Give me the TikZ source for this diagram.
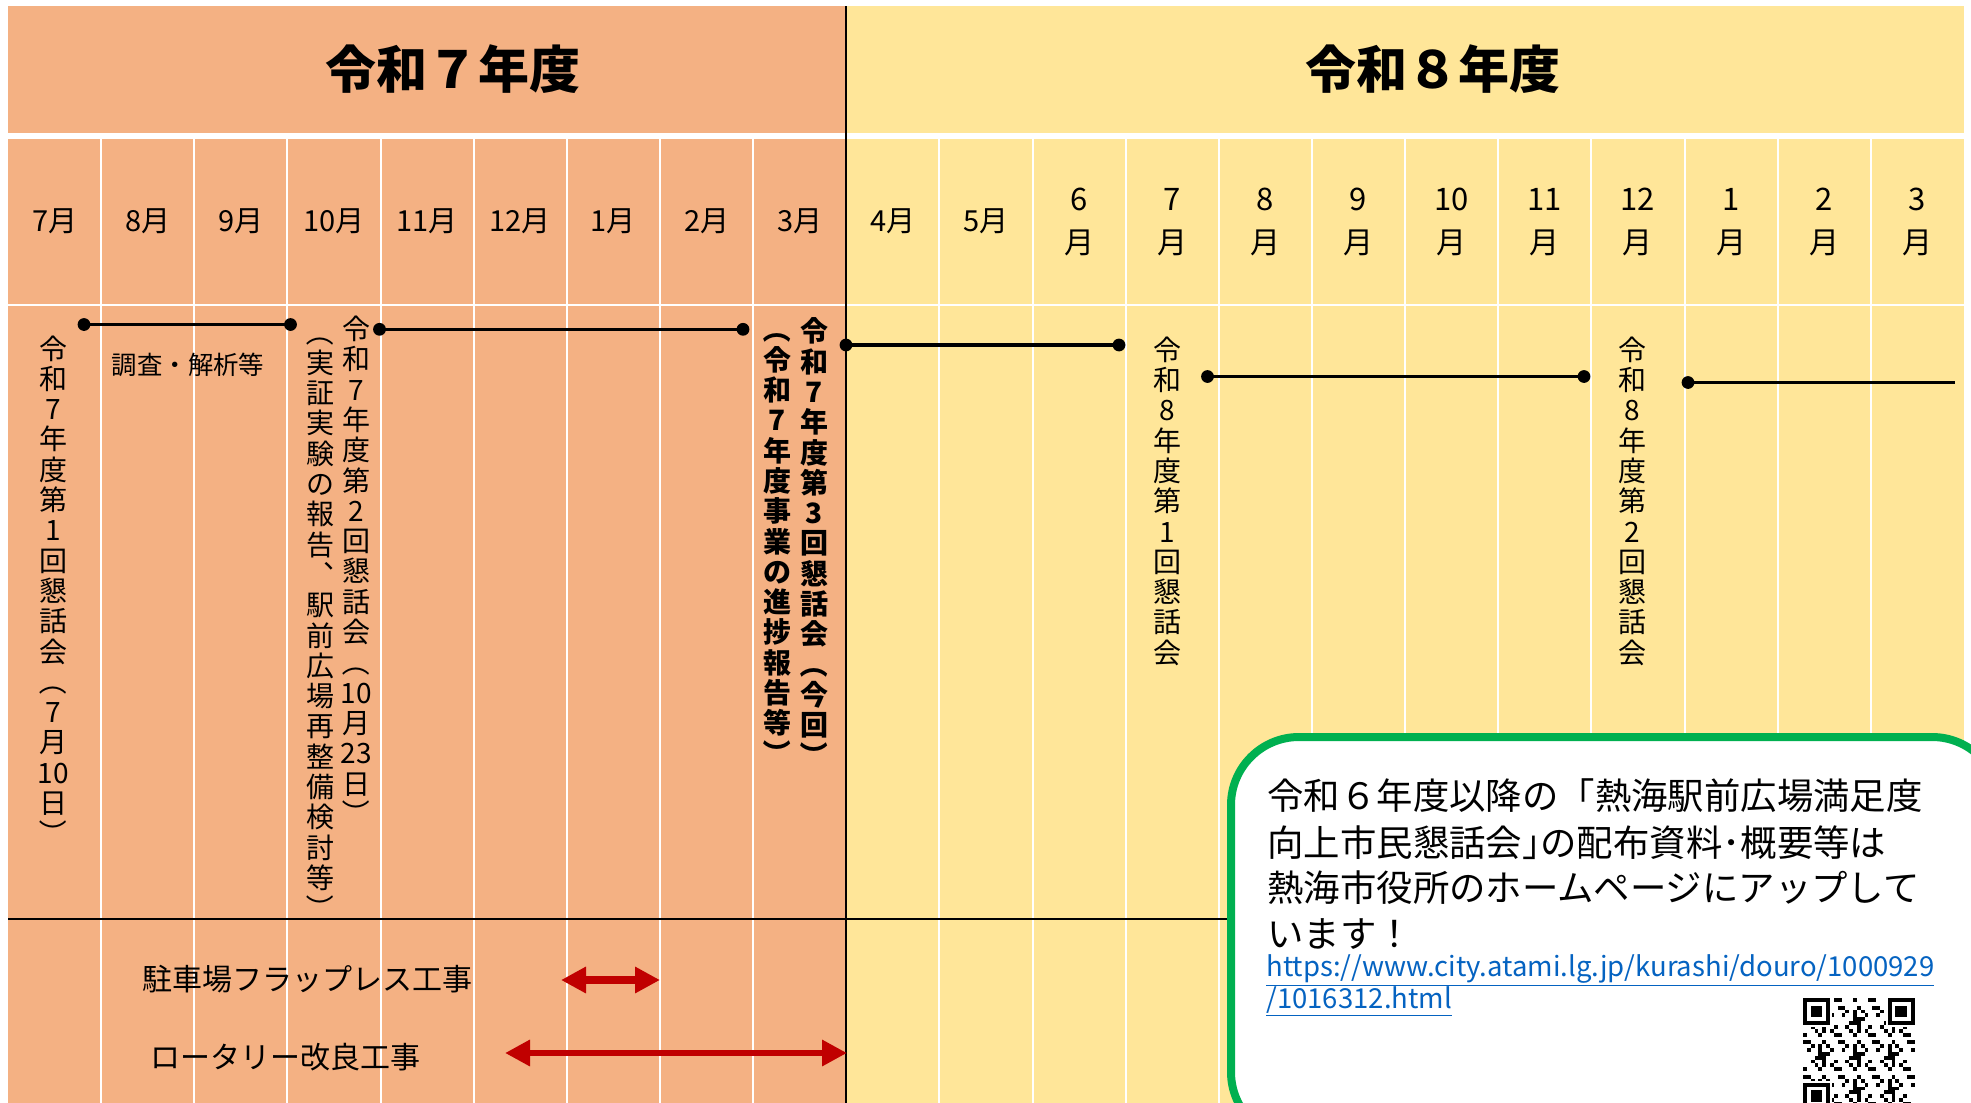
\documentclass[tikz,border=0pt]{standalone}
\usepackage{fontspec}
\usepackage{graphicx}
\newfontfamily\jp{Noto Sans CJK JP}
\usetikzlibrary{arrows.meta}
\definecolor{orangebg}{HTML}{F4B183}
\definecolor{yellowbg}{HTML}{FFE699}
\definecolor{arrowred}{HTML}{C00000}
\definecolor{boxgreen}{HTML}{00B050}
\definecolor{linkblue}{HTML}{0563C1}
\newcommand\vl{\rotatebox[origin=c]{-90}{（}}
\newcommand\vr{\rotatebox[origin=c]{-90}{）}}
\newcommand\vfont{\jp\fontsize{14}{15}\selectfont}
\newcommand\vfontb{\jp\bfseries\fontsize{14}{15}\selectfont}
\newcommand\monthfont{\jp\fontsize{14.5}{16}\selectfont}
% #1 name, #2 x, #3 first baseline, #4 font, #5 items
\newcommand\vcol[5]{%
  \foreach \ch [count=\k from 0] in {#5} {
    \node[vt, font=#4, name=#1-\k] at (#2, {#3+\k*30.3}) {\ch};
  }}
\begin{document}
\begin{tikzpicture}[x=0.5pt,y=-0.5pt,
  vt/.style={anchor=base,inner sep=0pt},
  lbl/.style={anchor=base,inner sep=0pt},
  sep/.style={white,line width=1pt},
  dotline/.style={line width=1.8pt},
  redarrow/.style={arrowred,{Triangle[length=12.5pt,width=12.5pt]}-{Triangle[length=12.5pt,width=12.5pt]}},
  boxtext/.style={anchor=base west,inner sep=0pt,font=\jp\fontsize{18.2}{23}\selectfont},
  urltext/.style={anchor=base west,inner sep=0pt,text=linkblue,font=\jp\fontsize{13.75}{16}\selectfont},
]
\useasboundingbox (0,0) rectangle (1971,1103);
\clip (0,0) rectangle (1971,1103);
% backgrounds
\fill[orangebg] (8,6) rectangle (846,1103);
\fill[yellowbg] (846,6) rectangle (1964,1103);
\fill[white] (8,133) rectangle (1964,139);
\draw[white,line width=1.25pt] (8,305) -- (1964,305);
\foreach \k in {1,...,8,10,11,...,20}
  \draw[sep] ({8+\k*93.14},139) -- ({8+\k*93.14},1103);
\draw[line width=1.4pt] (846,6) -- (846,1103);
\draw[line width=1.25pt] (8,919) -- (1964,919);
% headers
\node[lbl,font=\jp\bfseries\fontsize{25.5}{30}\selectfont] (h7) at (453,88.5) {令和７年度};
\node[lbl,font=\jp\bfseries\fontsize{25.5}{30}\selectfont] (h8) at (1432.5,88.5) {令和８年度};
% months
\foreach \m [count=\k from 0] in {7,8,9,10,11,12,1,2,3}
  \node[lbl,font=\monthfont,name=mo\k] at ({8+93.14*(\k+0.5)},231) {{\m}月};
\node[lbl,font=\monthfont] (m9) at ({8+93.14*9.5},231) {4月};
\node[lbl,font=\monthfont] (m10) at ({8+93.14*10.5},231) {5月};
\foreach \m [count=\k from 11] in {6,7,8,9,10,11,12,1,2,3} {
  \node[lbl,font=\jp\fontsize{15.5}{16}\selectfont,name=my\k] at ({8+93.14*(\k+0.5)},210.5) {\m};
  \node[lbl,font=\jp\fontsize{15}{16}\selectfont,name=myt\k] at ({8+93.14*(\k+0.5)},253) {月};
}
% timeline lines
\coordinate (d1a) at (84,324.5);    \coordinate (d1b) at (290.5,324.5);
\coordinate (d2a) at (379.5,329.3); \coordinate (d2b) at (743,329.3);
\coordinate (d3a) at (846,345);     \coordinate (d3b) at (1119,345);
\coordinate (d4a) at (1207.5,376.5);\coordinate (d4b) at (1584,376.5);
\coordinate (d5a) at (1688,382.5);  \coordinate (d5b) at (1955,382.5);
\foreach \p in {d1,d2,d3,d4} {
  \draw[dotline] (\p a) -- (\p b);
  \fill (\p a) circle[radius=3.2pt];
  \fill (\p b) circle[radius=3.2pt];
}
\draw[dotline] (d5a) -- (d5b);
\fill (d5a) circle[radius=3.2pt];
% labels
\node[lbl,font=\jp\fontsize{12.7}{15}\selectfont] (survey) at (188,374) {調査・解析等};
\vcol{c1}{53.5}{359}{\vfont}{令,和,7,年,度,第,1,回,懇,話,会,\vl,7,月,10,日,\vr}
\vcol{c4r}{356.5}{339.5}{\vfont}{令,和,7,年,度,第,2,回,懇,話,会,\vl,10,月,23,日,\vr}
\vcol{c4l}{320}{343}{\vfont}{\vl,実,証,実,験,の,報,告,︑,駅,前,広,場,再,整,備,検,討,等,\vr}
\vcol{c9r}{814.5}{341.8}{\vfontb}{令,和,7,年,度,第,3,回,懇,話,会,\vl,今,回,\vr}
\vcol{c9l}{777.5}{339.9}{\vfontb}{\vl,令,和,7,年,度,事,業,の,進,捗,報,告,等,\vr}
\vcol{y7}{1167}{360.2}{\vfont}{令,和,8,年,度,第,1,回,懇,話,会}
\vcol{y12}{1632}{360.2}{\vfont}{令,和,8,年,度,第,2,回,懇,話,会}
% construction
\node[lbl,font=\jp\fontsize{15}{18}\selectfont] (t1) at (307,990) {駐車場フラップレス工事};
\node[lbl,font=\jp\fontsize{15}{18}\selectfont] (t2) at (285,1068) {ロータリー改良工事};
\coordinate (a1a) at (561,980);  \coordinate (a1b) at (660,980);
\coordinate (a2a) at (505,1053); \coordinate (a2b) at (847,1053);
\draw[redarrow,line width=3.8pt] (a1a) -- (a1b);
\draw[redarrow,line width=3.4pt] (a2a) -- (a2b);
% info box
\draw[boxgreen,line width=4pt,fill=white,rounded corners=34pt] (1231,737) rectangle (2000,1140);
\node[boxtext] (b1) at (1267,809.5) {令和６年度以降の「熱海駅前広場満足度};
\node[boxtext] (b2) at (1267,856) {向上市民懇話会｣の配布資料･概要等は};
\node[boxtext] (b3) at (1267,901) {熱海市役所のホームページにアップして};
\node[boxtext] (b4) at (1267,947) {います！};
\node[urltext] (u1) at (1266,976) {\underline{https://www.city.atami.lg.jp/kurashi/douro/1000929}};
\node[urltext] (u2) at (1266,1008) {\underline{/1016312.html}};
% QR code
\coordinate (qr) at (1803,998);
\foreach \i in {0,...,28} {
  \foreach \j in {0,...,28} {
    \pgfmathtruncatemacro\r{mod(\i*\i*3+\j*\j*5+\i*\j*7+\i*11+\j*17,9)}
    \ifnum\r<3 \fill (qr) ++({\i*3.85},{\j*3.85}) rectangle ++(3.85,3.85); \fi
  }
}
\foreach \fx/\fy in {0/0,22/0,0/22} {
  \fill[white] (qr) ++({(\fx-0.5)*3.85},{(\fy-0.5)*3.85}) rectangle ++(30.8,30.8);
  \fill (qr) ++({\fx*3.85},{\fy*3.85}) rectangle ++(26.95,26.95);
  \fill[white] (qr) ++({(\fx+1)*3.85},{(\fy+1)*3.85}) rectangle ++(19.25,19.25);
  \fill (qr) ++({(\fx+2)*3.85},{(\fy+2)*3.85}) rectangle ++(11.55,11.55);
}
\end{tikzpicture}
\end{document}
